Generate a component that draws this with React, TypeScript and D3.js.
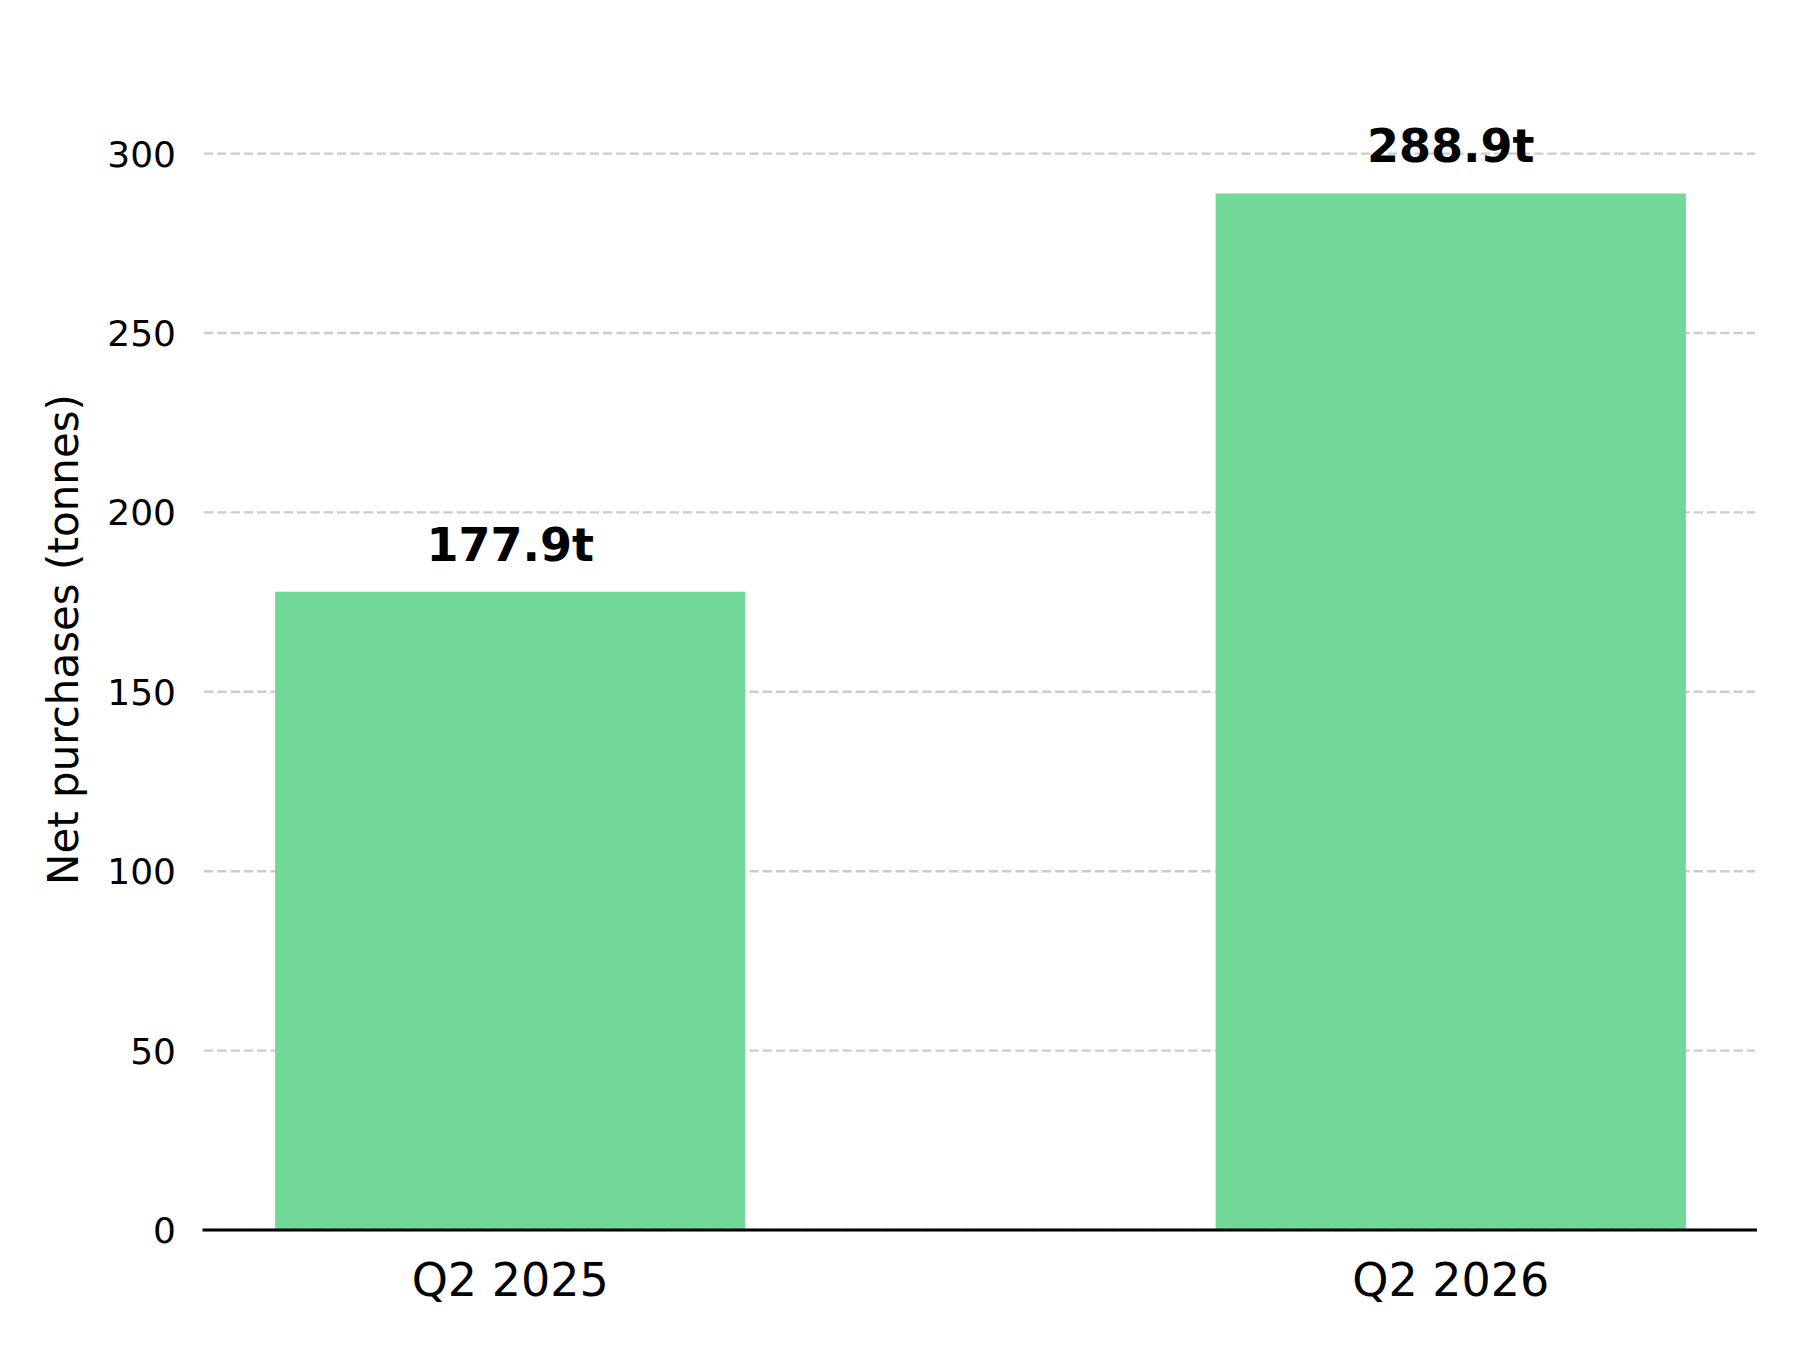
import React from "react";
import * as d3 from "d3";

// chart data
const quarters = ["Q2 2025", "Q2 2026"];
const netPurchases = [177.9, 288.9];
const yTicks = [0, 50, 100, 150, 200, 250, 300];

const WIDTH = 1800;
const HEIGHT = 1350;
const FONT = "DejaVu Sans, sans-serif";

const App = () => {
  // plot area
  const left = 204;
  const right = 1757;
  const top = 39;
  const bottom = 1230;

  const x = d3
    .scaleBand<string>()
    .domain(quarters)
    .range([left, right])
    .paddingInner(0.5)
    .paddingOuter(0.0756);

  const y = d3
    .scaleLinear()
    .domain([0, (d3.max(netPurchases) as number) * 1.149])
    .range([bottom, top]);

  return (
    <svg
      width={WIDTH}
      height={HEIGHT}
      style={{ position: "absolute", top: 0, left: 0, background: "#fff" }}
      fontFamily={FONT}
    >
      {/* grid lines */}
      {yTicks.map((t) => (
        <line
          key={"g" + t}
          x1={left}
          x2={right - 2}
          y1={y(t)}
          y2={y(t)}
          stroke="#cccccc"
          strokeWidth={2.4}
          strokeDasharray="9.3,4"
        />
      ))}

      {/* bars */}
      {quarters.map((q, i) => (
        <rect
          key={q}
          x={x(q)}
          y={y(netPurchases[i])}
          width={x.bandwidth()}
          height={y(0) - y(netPurchases[i])}
          fill="#71d898"
        />
      ))}

      {/* value labels */}
      {quarters.map((q, i) => (
        <text
          key={"v" + q}
          x={(x(q) as number) + x.bandwidth() / 2}
          y={y(netPurchases[i]) - 31}
          textAnchor="middle"
          fontSize={46}
          fontWeight="bold"
          fill="#000"
        >
          {netPurchases[i].toFixed(1)}t
        </text>
      ))}

      {/* x axis line */}
      <line x1={left - 1.5} x2={right} y1={bottom} y2={bottom} stroke="#000" strokeWidth={3} />

      {/* y tick labels */}
      {yTicks.map((t) => (
        <text
          key={"t" + t}
          x={left - 28}
          y={y(t)}
          dy="0.36em"
          textAnchor="end"
          fontSize={36}
          fill="#000"
        >
          {t}
        </text>
      ))}

      {/* x tick labels */}
      {quarters.map((q) => (
        <text
          key={"x" + q}
          x={(x(q) as number) + x.bandwidth() / 2}
          y={1296}
          textAnchor="middle"
          fontSize={46}
          fill="#000"
        >
          {q}
        </text>
      ))}

      {/* y axis title */}
      <text
        transform={`translate(78,${(top + bottom) / 2 + 5}) rotate(-90)`}
        textAnchor="middle"
        fontSize={42}
        fill="#000"
      >
        Net purchases (tonnes)
      </text>
    </svg>
  );
};

export default App;
